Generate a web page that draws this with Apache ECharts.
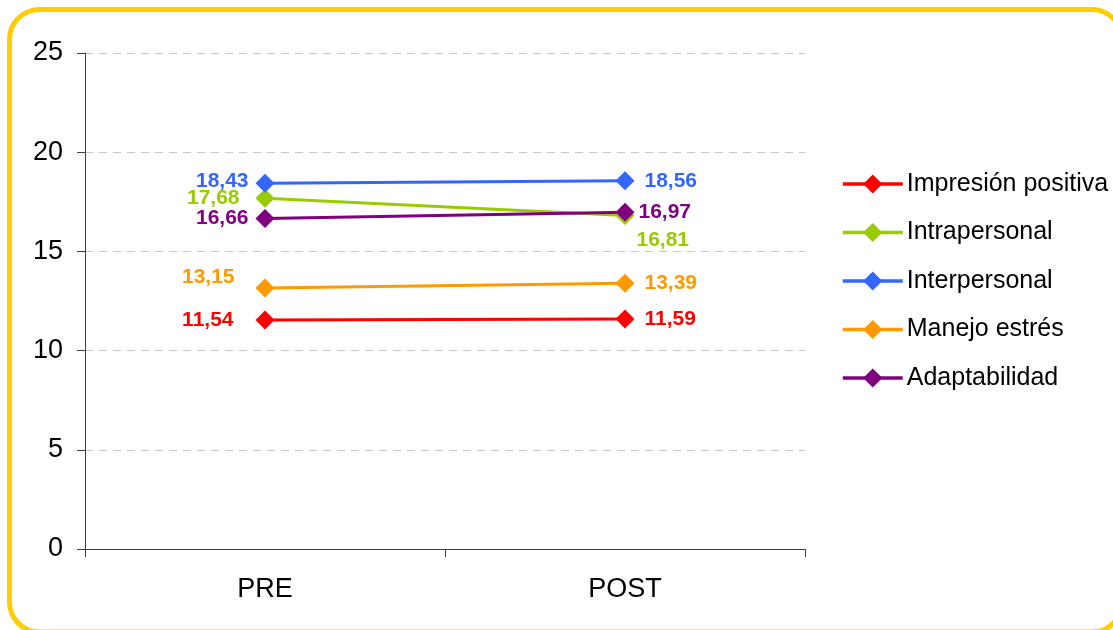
<!DOCTYPE html>
<html>
<head>
<meta charset="utf-8">
<script src="https://cdn.jsdelivr.net/npm/echarts@6/dist/echarts.min.js"></script>
<style>
  html, body { margin: 0; padding: 0; background: #fff; overflow: hidden; }
  #chart { width: 1113px; height: 630px; }
</style>
</head>
<body>
<div id="chart"></div>
<script>
// Categories and series values (comma-decimal labels are formatted at draw time)
const categories = ['PRE', 'POST'];
const seriesNames = ['Impresión positiva', 'Intrapersonal', 'Interpersonal', 'Manejo estrés', 'Adaptabilidad'];
const impresionPositiva = [11.54, 11.59];
const intrapersonal = [17.68, 16.81];
const interpersonal = [18.43, 18.56];
const manejoEstres = [13.15, 13.39];
const adaptabilidad = [16.66, 16.97];
const yTicks = [0, 5, 10, 15, 20, 25];

const colors = ['#FF0000', '#99CC00', '#3366FF', '#FF9900', '#800080'];
const values = [impresionPositiva, intrapersonal, interpersonal, manejoEstres, adaptabilidad];

// Label placement per series, per category (PRE, POST)
const labelPlacement = [
  [{ position: 'left', distance: 22 }, { position: 'right', distance: 10 }],
  [{ position: 'left', distance: 16 }, { position: 'right', distance: 0, offset: [2, 25] }],
  [{ position: 'left', distance: 7, offset: [0, -2] }, { position: 'right', distance: 10 }],
  [{ position: 'left', distance: 21, offset: [0, -11] }, { position: 'right', distance: 10 }],
  [{ position: 'left', distance: 7 }, { position: 'right', distance: 4 }]
];

const fmt = v => v.toFixed(2).replace('.', ',');
const FONT = 'Liberation Sans, Arial, sans-serif';

const series = seriesNames.map((name, i) => ({
  name: name,
  type: 'line',
  symbol: 'diamond',
  symbolSize: 19,
  z: i === 4 ? 5 : 2,
  lineStyle: { color: colors[i], width: 3 },
  itemStyle: { color: colors[i] },
  data: values[i].map((v, j) => ({
    value: v,
    label: Object.assign({
      show: true,
      color: colors[i],
      fontFamily: FONT,
      fontWeight: 'bold',
      fontSize: 21,
      formatter: p => fmt(p.value)
    }, labelPlacement[i][j])
  }))
}));

const chart = echarts.init(document.getElementById('chart'), null, { renderer: 'canvas' });
chart.setOption({
  animation: false,
  backgroundColor: '#ffffff',
  color: colors,
  textStyle: { fontFamily: FONT },
  // Rounded frame around the whole chart
  graphic: [{
    type: 'rect',
    silent: true,
    z: 100,
    shape: { x: 9.5, y: 9.5, width: 1112.5, height: 622.5, r: 30 },
    style: { fill: 'none', stroke: '#FFCC00', lineWidth: 5 }
  }],
  grid: { left: 85, right: 308, top: 53, bottom: 81, containLabel: false },
  legend: {
    orient: 'vertical',
    left: 841,
    top: 171,
    padding: 0,
    itemWidth: 60,
    itemHeight: 24,
    itemGap: 22.5,
    data: seriesNames,
    lineStyle: { width: 3.5 },
    textStyle: { fontSize: 25, lineHeight: 26, color: '#000', fontFamily: FONT, padding: [0, 0, 0, -1] }
  },
  xAxis: {
    type: 'category',
    data: categories,
    boundaryGap: true,
    axisLine: { lineStyle: { color: '#404040', width: 1 } },
    axisTick: { show: true, length: 8, inside: false, lineStyle: { color: '#404040' } },
    axisLabel: { fontSize: 27, color: '#000', margin: 27 },
    splitLine: { show: false }
  },
  yAxis: {
    type: 'value',
    min: yTicks[0],
    max: yTicks[yTicks.length - 1],
    interval: yTicks[1] - yTicks[0],
    axisLine: { show: true, lineStyle: { color: '#404040', width: 1 } },
    axisTick: { show: true, length: 8, lineStyle: { color: '#404040' } },
    axisLabel: { fontSize: 27, color: '#000', margin: 22 },
    splitLine: { show: true, lineStyle: { color: '#c8c8c8', type: [8, 6], width: 1 } }
  },
  series: series
});
</script>
</body>
</html>
